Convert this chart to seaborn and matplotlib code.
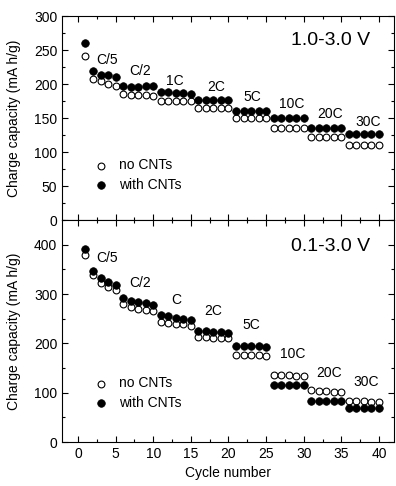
import numpy as np
import pandas as pd
import seaborn as sns
import matplotlib.pyplot as plt
from matplotlib.ticker import MultipleLocator

# Cycle index and charge capacities (mA h/g)
cycles = list(range(1, 41))

# 1.0-3.0 V window
top_no_cnt = [241, 208, 204, 200, 197, 185, 184, 184, 184, 183,
              175, 175, 175, 175, 175, 165, 165, 165, 165, 165,
              150, 150, 150, 150, 150, 136, 136, 136, 136, 136,
              122, 122, 122, 122, 122, 110, 110, 110, 110, 110]
top_with_cnt = [261, 219, 214, 214, 211, 197, 196, 195, 197, 197,
                188, 188, 187, 187, 186, 176, 176, 176, 176, 176,
                161, 161, 161, 161, 161, 150, 150, 150, 150, 150,
                136, 136, 136, 136, 136, 126, 126, 126, 126, 126]

# 0.1-3.0 V window
bot_no_cnt = [379, 339, 323, 314, 308, 280, 274, 270, 267, 265,
              244, 241, 240, 239, 236, 214, 213, 211, 210, 210,
              177, 177, 176, 176, 175, 136, 135, 135, 134, 134,
              105, 104, 103, 102, 102, 84, 84, 83, 82, 82]
bot_with_cnt = [391, 347, 333, 325, 318, 292, 287, 284, 282, 278,
                258, 255, 252, 250, 247, 226, 225, 224, 223, 222,
                195, 195, 194, 194, 193, 115, 115, 115, 115, 115,
                83, 83, 83, 83, 83, 68, 68, 68, 68, 68]

top_rates = ["C/5", "C/2", "1C", "2C", "5C", "10C", "20C", "30C"]
top_rate_x = [3.8, 8.2, 12.9, 18.4, 23.2, 28.4, 33.5, 38.6]
top_rate_y = [236, 219, 205, 195, 181, 171, 156, 145]

bot_rates = ["C/5", "C/2", "C", "2C", "5C", "10C", "20C", "30C"]
bot_rate_x = [3.9, 8.2, 13.0, 18.0, 23.1, 28.5, 33.4, 38.3]
bot_rate_y = [374, 323, 289, 265, 238, 178, 140, 122]

sns.set_style("ticks")
plt.rcParams["font.family"] = ["Liberation Sans", "DejaVu Sans"]
for key in ["text.color", "axes.labelcolor", "xtick.color", "ytick.color",
            "axes.edgecolor"]:
    plt.rcParams[key] = "black"

fig = plt.figure(figsize=(3.96, 4.86), dpi=100)
ax1 = fig.add_axes([0.157, 0.547, 0.838, 0.420])
ax2 = fig.add_axes([0.157, 0.0905, 0.838, 0.4565], sharex=ax1)


def draw_panel(ax, no_cnt, with_cnt, ymax, ymaj, rates, rx, ry, window):
    df = pd.DataFrame({"cycle": cycles, "no": no_cnt, "with": with_cnt})
    sns.scatterplot(data=df, x="cycle", y="no", ax=ax, s=24, marker="o",
                    facecolor="white", edgecolor="black", linewidth=0.8,
                    label="no CNTs", zorder=3)
    sns.scatterplot(data=df, x="cycle", y="with", ax=ax, s=30, marker="o",
                    color="black", edgecolor="black", linewidth=0.5,
                    label="with CNTs", zorder=3)
    for t, x, y in zip(rates, rx, ry):
        ax.text(x, y, t, ha="center", va="center", fontsize=10)
    ax.text(0.81, 0.88, window, transform=ax.transAxes,
            ha="center", va="center", fontsize=14)
    ax.set_ylim(0, ymax)
    ax.set_xlim(-2.1, 42)
    ax.yaxis.set_major_locator(MultipleLocator(ymaj))
    ax.yaxis.set_minor_locator(MultipleLocator(ymaj / 2))
    ax.xaxis.set_major_locator(MultipleLocator(5))
    ax.xaxis.set_minor_locator(MultipleLocator(2.5))
    ax.tick_params(which="both", direction="in", top=True, right=True,
                   labelsize=10, width=0.8)
    ax.tick_params(which="major", length=4, pad=3.5)
    ax.tick_params(which="minor", length=2)
    for sp in ax.spines.values():
        sp.set_linewidth(0.8)
    ax.set_ylabel("Charge capacity (mA h/g)", fontsize=10)
    ax.yaxis.set_label_coords(-0.125, 0.5)
    ax.legend(loc="center left", bbox_to_anchor=(0.096, 0.22), frameon=False,
              fontsize=10, handlelength=1.0, handletextpad=0.8,
              borderpad=0, borderaxespad=0, labelspacing=0.4)


draw_panel(ax1, top_no_cnt, top_with_cnt, 300, 50,
           top_rates, top_rate_x, top_rate_y, "1.0-3.0 V")
draw_panel(ax2, bot_no_cnt, bot_with_cnt, 450, 100,
           bot_rates, bot_rate_x, bot_rate_y, "0.1-3.0 V")

ax1.set_xlabel("")
ax1.tick_params(labelbottom=False)
ax2.set_xlabel("Cycle number", fontsize=10)
ax2.set_yticks([0, 100, 200, 300, 400])

fig.savefig("out.png", dpi=100)
